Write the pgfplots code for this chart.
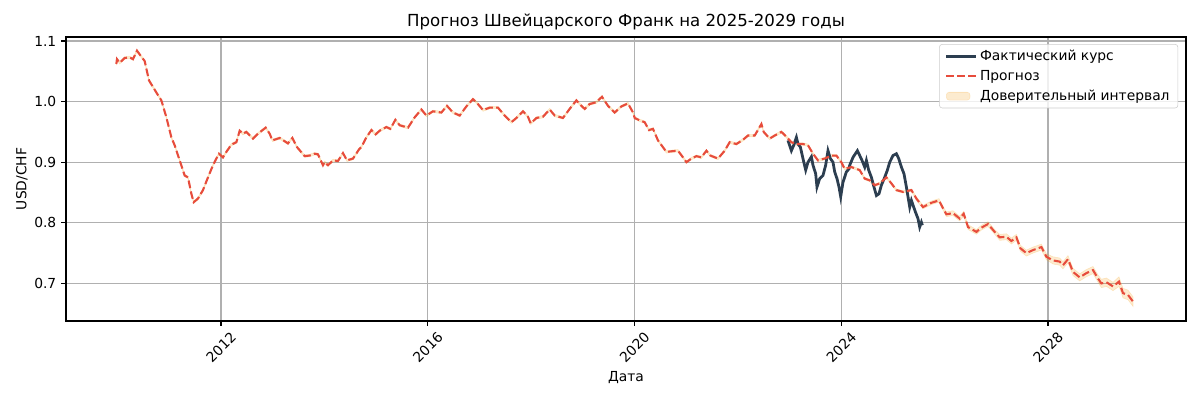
\documentclass[border=0pt]{standalone}
\usepackage{fontspec}
\setmainfont{DejaVu Sans}
\usepackage{pgfplots}
\usepackage{pgfplotstable}
\pgfplotsset{compat=1.18}
\usepgfplotslibrary{fillbetween}
\definecolor{actc}{HTML}{2C3E50}
\definecolor{fcc}{HTML}{E74C3C}
\definecolor{bandc}{HTML}{F39C12}
\definecolor{gridc}{HTML}{B0B0B0}
\pgfplotstableread{
x y w
2009.976 1.062 0.002
2009.988 1.070 0.002
2010.040 1.064 0.002
2010.137 1.072 0.002
2010.234 1.073 0.002
2010.298 1.070 0.002
2010.375 1.084 0.002
2010.460 1.074 0.002
2010.524 1.067 0.002
2010.607 1.035 0.002
2010.750 1.015 0.002
2010.847 1.002 0.002
2010.944 0.974 0.002
2011.040 0.941 0.002
2011.104 0.928 0.002
2011.201 0.903 0.002
2011.298 0.878 0.002
2011.362 0.875 0.002
2011.427 0.848 0.002
2011.472 0.834 0.002
2011.555 0.840 0.002
2011.652 0.854 0.002
2011.749 0.875 0.002
2011.845 0.895 0.002
2011.911 0.906 0.002
2011.961 0.914 0.002
2012.039 0.908 0.002
2012.104 0.917 0.002
2012.201 0.929 0.002
2012.298 0.933 0.002
2012.362 0.952 0.002
2012.426 0.947 0.002
2012.491 0.950 0.002
2012.619 0.939 0.002
2012.716 0.947 0.002
2012.865 0.957 0.002
2012.942 0.947 0.002
2012.994 0.936 0.002
2013.136 0.940 0.002
2013.296 0.931 0.002
2013.381 0.940 0.002
2013.470 0.925 0.002
2013.619 0.910 0.002
2013.716 0.911 0.002
2013.813 0.914 0.002
2013.877 0.913 0.002
2013.973 0.895 0.002
2014.006 0.900 0.002
2014.070 0.895 0.002
2014.167 0.903 0.002
2014.263 0.902 0.002
2014.360 0.915 0.002
2014.438 0.903 0.002
2014.554 0.906 0.002
2014.670 0.921 0.002
2014.716 0.925 0.002
2014.813 0.941 0.002
2014.910 0.953 0.002
2014.993 0.946 0.002
2015.070 0.952 0.002
2015.200 0.958 0.002
2015.277 0.955 0.002
2015.374 0.970 0.002
2015.457 0.961 0.002
2015.618 0.957 0.002
2015.747 0.974 0.002
2015.877 0.987 0.002
2015.974 0.977 0.002
2016.101 0.984 0.002
2016.264 0.982 0.002
2016.372 0.993 0.002
2016.488 0.982 0.002
2016.618 0.977 0.002
2016.747 0.992 0.002
2016.875 1.004 0.002
2016.941 0.999 0.002
2017.069 0.986 0.002
2017.198 0.990 0.002
2017.359 0.990 0.002
2017.488 0.977 0.002
2017.618 0.966 0.002
2017.715 0.973 0.002
2017.843 0.984 0.002
2017.939 0.975 0.002
2017.992 0.964 0.002
2018.102 0.973 0.002
2018.229 0.975 0.002
2018.359 0.987 0.002
2018.456 0.977 0.002
2018.616 0.973 0.002
2018.746 0.988 0.002
2018.876 1.002 0.002
2018.972 0.993 0.002
2019.036 0.988 0.002
2019.133 0.996 0.002
2019.263 0.999 0.002
2019.371 1.008 0.002
2019.487 0.993 0.002
2019.617 0.982 0.002
2019.746 0.992 0.002
2019.874 0.997 0.002
2019.971 0.982 0.002
2020.004 0.973 0.002
2020.100 0.969 0.002
2020.197 0.966 0.002
2020.280 0.953 0.002
2020.358 0.955 0.002
2020.454 0.936 0.002
2020.617 0.917 0.002
2020.713 0.918 0.002
2020.841 0.919 0.002
2020.938 0.908 0.002
2021.004 0.900 0.002
2021.100 0.906 0.002
2021.197 0.910 0.002
2021.294 0.908 0.002
2021.391 0.919 0.002
2021.468 0.911 0.002
2021.615 0.906 0.002
2021.745 0.919 0.002
2021.841 0.933 0.002
2021.971 0.930 0.002
2022.099 0.937 0.002
2022.195 0.944 0.002
2022.325 0.944 0.002
2022.455 0.963 0.002
2022.499 0.950 0.002
2022.615 0.939 0.002
2022.712 0.944 0.002
2022.842 0.950 0.002
2022.938 0.942 0.002
2023.035 0.933 0.002
2023.132 0.930 0.002
2023.260 0.930 0.002
2023.356 0.928 0.002
2023.453 0.914 0.002
2023.550 0.903 0.002
2023.679 0.906 0.002
2023.809 0.911 0.002
2023.905 0.911 0.002
2024.002 0.900 0.002
2024.066 0.889 0.002
2024.196 0.892 0.002
2024.356 0.887 0.002
2024.453 0.873 0.002
2024.550 0.870 0.002
2024.646 0.862 0.002
2024.743 0.865 0.002
2024.873 0.875 0.002
2024.970 0.865 0.002
2025.066 0.854 0.002
2025.194 0.851 0.002
2025.357 0.854 0.002
2025.453 0.840 0.003
2025.581 0.826 0.003
2025.743 0.833 0.003
2025.890 0.837 0.003
2025.968 0.824 0.003
2026.034 0.814 0.004
2026.161 0.816 0.004
2026.291 0.807 0.004
2026.368 0.815 0.004
2026.452 0.793 0.004
2026.614 0.785 0.004
2026.711 0.792 0.004
2026.839 0.798 0.004
2026.968 0.785 0.004
2027.065 0.776 0.005
2027.194 0.777 0.005
2027.291 0.770 0.005
2027.388 0.776 0.005
2027.465 0.758 0.005
2027.581 0.750 0.005
2027.709 0.755 0.005
2027.872 0.760 0.005
2027.968 0.744 0.005
2028.096 0.738 0.006
2028.225 0.736 0.006
2028.289 0.730 0.006
2028.386 0.740 0.006
2028.483 0.719 0.006
2028.612 0.710 0.006
2028.742 0.717 0.006
2028.870 0.722 0.006
2028.967 0.708 0.006
2029.032 0.700 0.007
2029.129 0.702 0.007
2029.257 0.695 0.007
2029.373 0.703 0.008
2029.450 0.684 0.008
2029.547 0.681 0.008
2029.644 0.670 0.008
}\forecast
\pgfplotstableread{
x y
2022.969 0.936
2023.035 0.919
2023.080 0.928
2023.132 0.941
2023.163 0.930
2023.209 0.925
2023.259 0.906
2023.312 0.887
2023.356 0.900
2023.422 0.909
2023.453 0.895
2023.505 0.881
2023.530 0.859
2023.583 0.873
2023.646 0.878
2023.698 0.895
2023.743 0.919
2023.789 0.906
2023.840 0.900
2023.873 0.884
2023.917 0.873
2023.956 0.859
2023.989 0.843
2024.033 0.867
2024.099 0.884
2024.149 0.889
2024.163 0.895
2024.227 0.908
2024.312 0.919
2024.357 0.911
2024.401 0.903
2024.453 0.892
2024.486 0.903
2024.530 0.887
2024.583 0.875
2024.633 0.859
2024.680 0.845
2024.730 0.848
2024.776 0.862
2024.840 0.875
2024.892 0.887
2024.937 0.900
2025.001 0.911
2025.066 0.914
2025.111 0.906
2025.163 0.892
2025.213 0.881
2025.260 0.859
2025.291 0.843
2025.324 0.826
2025.357 0.837
2025.401 0.826
2025.434 0.818
2025.484 0.807
2025.517 0.793
2025.550 0.801
2025.569 0.796
}\actual
\begin{document}
\begin{tikzpicture}
\begin{axis}[
  name=main,
  scale only axis,
  width=11.2in, height=2.84in,
  xmin=2009.002, xmax=2030.669,
  ymin=0.638, ymax=1.1066,
  axis line style={black, line width=0.8bp},
  tick align=outside,
  major tick length=3.5bp,
  tick style={black, line width=0.8bp},
  xtick pos=bottom, ytick pos=left,
  xtick={2012,2016,2020,2024,2028},
  xticklabels={2012,2016,2020,2024,2028},
  ytick={0.7,0.8,0.9,1.0,1.1},
  yticklabels={0.7,0.8,0.9,1.0,1.1},
  grid=major,
  major grid style={gridc, line width=0.8bp},
  ticklabel style={font=\fontsize{10}{12}\selectfont},
  xticklabel style={yshift=-15.5pt, rotate=45, anchor=center},
  xlabel={Дата},
  ylabel={USD/CHF},
  label style={font=\fontsize{10}{12}\selectfont},
  xlabel style={at={(axis description cs:0.5,-0.2)}, anchor=center},
  ylabel style={at={(axis description cs:-0.0393,0.5)}, anchor=center, rotate=0},
  title={Прогноз Швейцарского Франк на 2025-2029 годы},
  title style={font=\fontsize{12}{14}\selectfont, at={(axis description cs:0.5,1)}, anchor=base, yshift=1.5pt},
  legend style={at={(0.993,0.975)}, anchor=north east, draw=black!20, rounded corners=2bp,
    fill=white, fill opacity=0.8, text opacity=1, font=\fontsize{10}{12}\selectfont,
    row sep=1.5pt, inner xsep=4pt, inner ysep=2pt},
  legend cell align=left,
  legend image code/.code={\draw[#1] (0cm,0cm) -- (0.75cm,0cm);},
]
\addplot[actc, line width=2bp] table[x=x, y=y] {\actual};
\addlegendentry{Фактический курс}
\addplot[fcc, line width=1.5bp, dash pattern=on 5.55bp off 2.4bp] table[x=x, y=y] {\forecast};
\addlegendentry{Прогноз}
\addplot[name path=up, draw=none, forget plot] table[x=x, y expr=\thisrow{y}+\thisrow{w}] {\forecast};
\addplot[name path=lo, draw=none, forget plot] table[x=x, y expr=\thisrow{y}-\thisrow{w}] {\forecast};
\addplot[fill=bandc, fill opacity=0.2, draw=bandc, draw opacity=0.2, area legend] fill between[of=up and lo];
\addlegendentry{Доверительный интервал}
\end{axis}
\path (main.south west) ++(-0.66in,-0.79in) rectangle ++(12in,4in);
\end{tikzpicture}
\end{document}
